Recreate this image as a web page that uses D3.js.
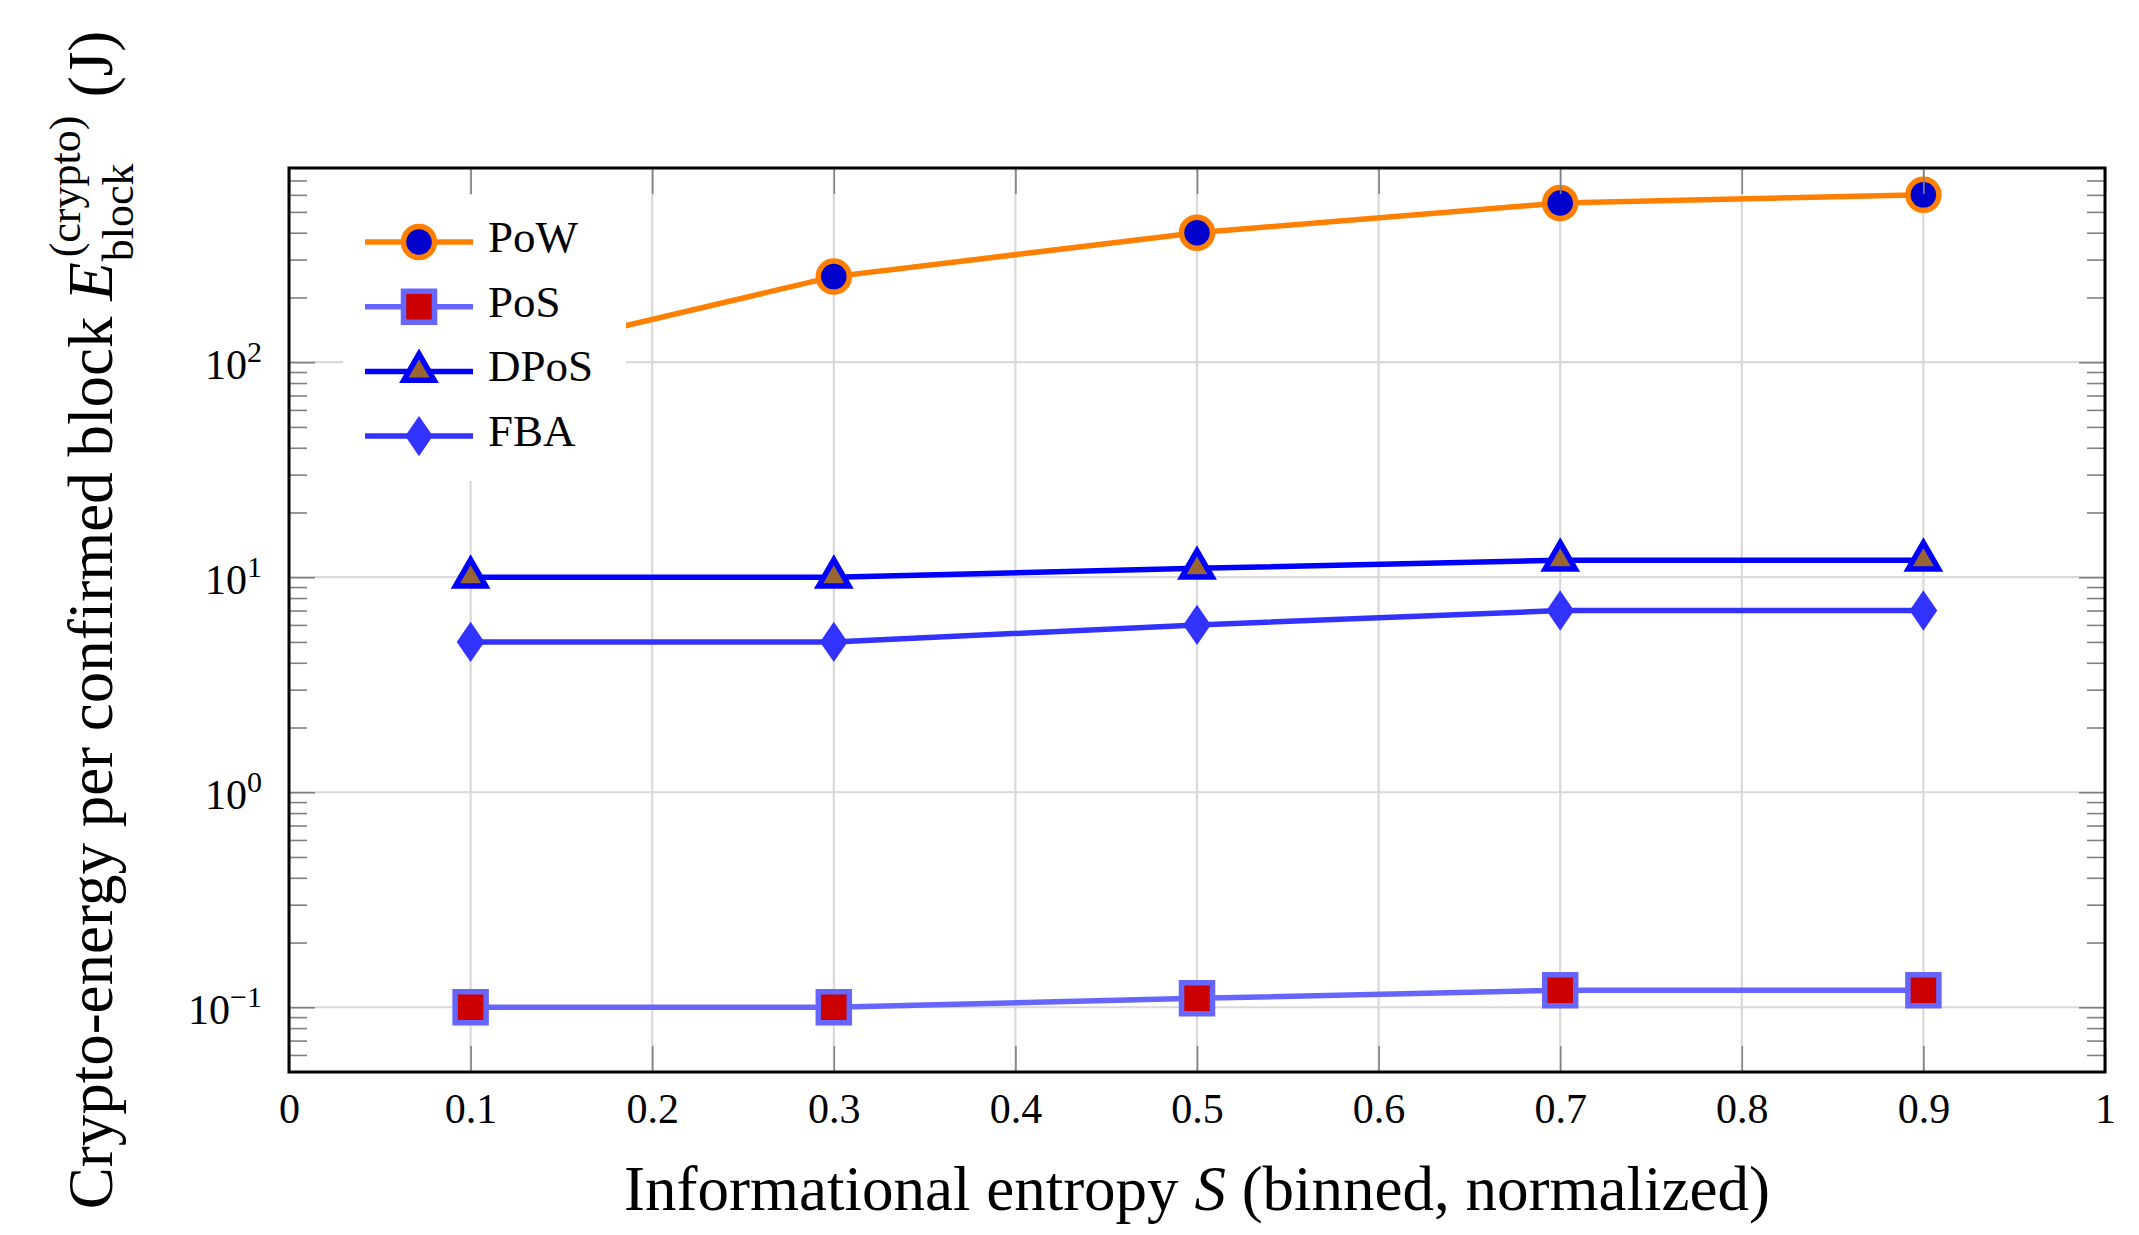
<!DOCTYPE html>
<html lang="en">
<head>
<meta charset="utf-8">
<title>Crypto-energy per confirmed block</title>
<script src="https://cdn.jsdelivr.net/npm/d3@7"></script>
<style>
    body { margin: 0; background: #fff; }
    svg text { font-family: "Liberation Serif", "DejaVu Serif", serif; fill: #000; }
</style>
</head>
<body>
<svg id="chart" width="2139" height="1235"></svg>
<script>
    // values
    const entropy = [0.1, 0.3, 0.5, 0.7, 0.9];
    const powEnergy = [100, 250, 400, 550, 600];
    const posEnergy = [0.1, 0.1, 0.11, 0.12, 0.12];
    const dposEnergy = [10, 10, 11, 12, 12];
    const fbaEnergy = [5, 5, 6, 7, 7];
    const seriesNames = ["PoW", "PoS", "DPoS", "FBA"];
    const xTickValues = [0, 0.1, 0.2, 0.3, 0.4, 0.5, 0.6, 0.7, 0.8, 0.9, 1];
    const xTickLabels = ["0", "0.1", "0.2", "0.3", "0.4", "0.5", "0.6", "0.7", "0.8", "0.9", "1"];
    const yTickValues = [0.1, 1, 10, 100];
    const yTickExponents = ["\u22121", "0", "1", "2"];

    // figure constants
    const plotLeft = 289, plotRight = 2105, plotTop = 168, plotBottom = 1072;
    const lineWidth = 5.5;
    const styles = [
        {line: "#ff8000", fill: "#0000cc", mark: "circle"},
        {line: "#6666ff", fill: "#cc0000", mark: "square"},
        {line: "#0000ff", fill: "#996633", mark: "triangle"},
        {line: "#3333ff", fill: "#3333ff", mark: "diamond"}
    ];
    const seriesValues = [powEnergy, posEnergy, dposEnergy, fbaEnergy];

    var svg = d3.select("#chart");

    var x = d3.scaleLinear().domain([0, 1]).range([plotLeft, plotRight]);
    var y = d3.scaleLog().domain([0.05, 800]).range([plotBottom, plotTop]);

    // grid
    var grid = svg.append("g").attr("stroke", "#d9d9d9").attr("stroke-width", 2.2);
    grid.selectAll(".vgrid")
        .data(xTickValues.slice(1, -1))
        .enter().append("line")
        .attr("x1", d => x(d)).attr("x2", d => x(d))
        .attr("y1", plotTop).attr("y2", plotBottom);
    grid.selectAll(".hgrid")
        .data(yTickValues)
        .enter().append("line")
        .attr("x1", plotLeft).attr("x2", plotRight)
        .attr("y1", d => y(d)).attr("y2", d => y(d));

    function markPath(kind) {
        var p = d3.path();
        if (kind === "circle") {
            p.arc(0, 0, 15.5, 0, 2 * Math.PI);
        } else if (kind === "square") {
            p.rect(-15.5, -15.5, 31, 31);
        } else if (kind === "triangle") {
            var r = 17.5;
            p.moveTo(0, -r);
            p.lineTo(r * Math.cos(Math.PI / 6), r / 2);
            p.lineTo(-r * Math.cos(Math.PI / 6), r / 2);
            p.closePath();
        } else {
            p.moveTo(0, -17.5);
            p.lineTo(12, 0);
            p.lineTo(0, 17.5);
            p.lineTo(-12, 0);
            p.closePath();
        }
        return p.toString();
    }

    var line = d3.line()
        .x((d, i) => x(entropy[i]))
        .y(d => y(d));

    // series
    seriesValues.forEach(function (vals, k) {
        var st = styles[k];
        var g = svg.append("g").attr("class", "series");
        g.append("path")
            .datum(vals)
            .attr("fill", "none")
            .attr("stroke", st.line)
            .attr("stroke-width", lineWidth)
            .attr("stroke-linejoin", "round")
            .attr("d", line);
        g.selectAll(".mark")
            .data(vals)
            .enter().append("path")
            .attr("class", "mark")
            .attr("transform", (d, i) => "translate(" + x(entropy[i]) + "," + y(d) + ")")
            .attr("d", markPath(st.mark))
            .attr("fill", st.fill)
            .attr("stroke", st.line)
            .attr("stroke-width", st.mark === "diamond" ? 3 : lineWidth);
    });

    // legend
    var legend = svg.append("g");
    legend.append("rect")
        .attr("x", 343).attr("y", 195)
        .attr("width", 283).attr("height", 286)
        .attr("fill", "#fff");
    var rows = legend.selectAll(".row")
        .data(seriesNames)
        .enter().append("g")
        .attr("transform", (d, i) => "translate(0," + (242 + i * 64.7) + ")");
    rows.append("line")
        .attr("x1", 365).attr("x2", 473)
        .attr("stroke", (d, i) => styles[i].line)
        .attr("stroke-width", lineWidth);
    rows.append("path")
        .attr("transform", "translate(419,0)")
        .attr("d", (d, i) => markPath(styles[i].mark))
        .attr("fill", (d, i) => styles[i].fill)
        .attr("stroke", (d, i) => styles[i].line)
        .attr("stroke-width", (d, i) => styles[i].mark === "diamond" ? 3 : lineWidth);
    rows.append("text")
        .attr("x", 488).attr("y", 10)
        .attr("font-size", 45)
        .text(d => d);

    // ticks
    var tickColor = "#808080";
    var axB = d3.axisBottom(x).tickValues(xTickValues).tickSize(-26).tickPadding(21)
        .tickFormat((d, i) => xTickLabels[i]);
    var gB = svg.append("g").attr("transform", "translate(0," + plotBottom + ")").call(axB);
    var axT = d3.axisTop(x).tickValues(xTickValues).tickSize(-26).tickFormat("");
    var gT = svg.append("g").attr("transform", "translate(0," + plotTop + ")").call(axT);

    var minorY = y.ticks().filter(d => yTickValues.indexOf(d) < 0 && d > 0.05 && d < 800);
    var gL = svg.append("g").attr("transform", "translate(" + plotLeft + ",0)")
        .call(d3.axisLeft(y).tickValues(yTickValues).tickSize(-26).tickFormat(""));
    var gLm = svg.append("g").attr("transform", "translate(" + plotLeft + ",0)")
        .call(d3.axisLeft(y).tickValues(minorY).tickSize(-18).tickFormat(""));
    var gR = svg.append("g").attr("transform", "translate(" + plotRight + ",0)")
        .call(d3.axisRight(y).tickValues(yTickValues).tickSize(-26).tickFormat(""));
    var gRm = svg.append("g").attr("transform", "translate(" + plotRight + ",0)")
        .call(d3.axisRight(y).tickValues(minorY).tickSize(-18).tickFormat(""));

    [gB, gT, gL, gLm, gR, gRm].forEach(function (g) {
        g.select(".domain").remove();
        g.selectAll(".tick line").attr("stroke", tickColor).attr("stroke-width", 1.6);
    });
    gB.selectAll(".tick text")
        .attr("font-size", 42)
        .attr("font-family", "Liberation Serif, serif")
        .attr("fill", "#000");

    // y tick labels with superscripts
    var yl = svg.append("g");
    yl.selectAll("text")
        .data(yTickValues)
        .enter().append("text")
        .attr("x", plotLeft - 27)
        .attr("y", d => y(d) + 17)
        .attr("text-anchor", "end")
        .attr("font-size", 42)
        .each(function (d, i) {
            var t = d3.select(this);
            t.append("tspan").text("10");
            t.append("tspan").attr("dy", -17).attr("font-size", 30).text(yTickExponents[i]);
        });

    // frame
    svg.append("rect")
        .attr("x", plotLeft).attr("y", plotTop)
        .attr("width", plotRight - plotLeft).attr("height", plotBottom - plotTop)
        .attr("fill", "none")
        .attr("stroke", "#000")
        .attr("stroke-width", 3);

    // x axis label
    var xl = svg.append("text")
        .attr("x", (plotLeft + plotRight) / 2)
        .attr("y", 1210)
        .attr("text-anchor", "middle")
        .attr("font-size", 63);
    xl.append("tspan").text("Informational entropy ");
    xl.append("tspan").attr("font-style", "italic").text("S");
    xl.append("tspan").text(" (binned, normalized)");

    // y axis label, E with stacked super/subscript
    var fs = 63, small = 44, gap = fs * 0.25;
    var ylab = svg.append("g").attr("transform", "translate(112," + ((plotTop + plotBottom) / 2) + ") rotate(-90)");
    var t1 = ylab.append("text").attr("font-size", fs).text("Crypto-energy per confirmed block");
    var tE = ylab.append("text").attr("font-size", fs).attr("font-style", "italic").text("E");
    var tSup = ylab.append("text").attr("font-size", small).text("(crypto)");
    var tSub = ylab.append("text").attr("font-size", small).text("block");
    var tJ = ylab.append("text").attr("font-size", fs).text("(J)");
    var w1 = t1.node().getComputedTextLength(),
        wE = tE.node().getComputedTextLength(),
        wSup = tSup.node().getComputedTextLength(),
        wSub = tSub.node().getComputedTextLength(),
        wJ = tJ.node().getComputedTextLength();
    var total = w1 + gap + wE + 3 + Math.max(wSup, wSub) + gap * 1.3 + wJ;
    var sx = -total / 2;
    t1.attr("x", sx);
    tE.attr("x", sx + w1 + gap);
    tSup.attr("x", sx + w1 + gap + wE + 5).attr("y", -32);
    tSub.attr("x", sx + w1 + gap + wE + 1).attr("y", 21);
    tJ.attr("x", sx + w1 + gap + wE + 3 + Math.max(wSup, wSub) + gap * 1.3);
</script>
</body>
</html>
